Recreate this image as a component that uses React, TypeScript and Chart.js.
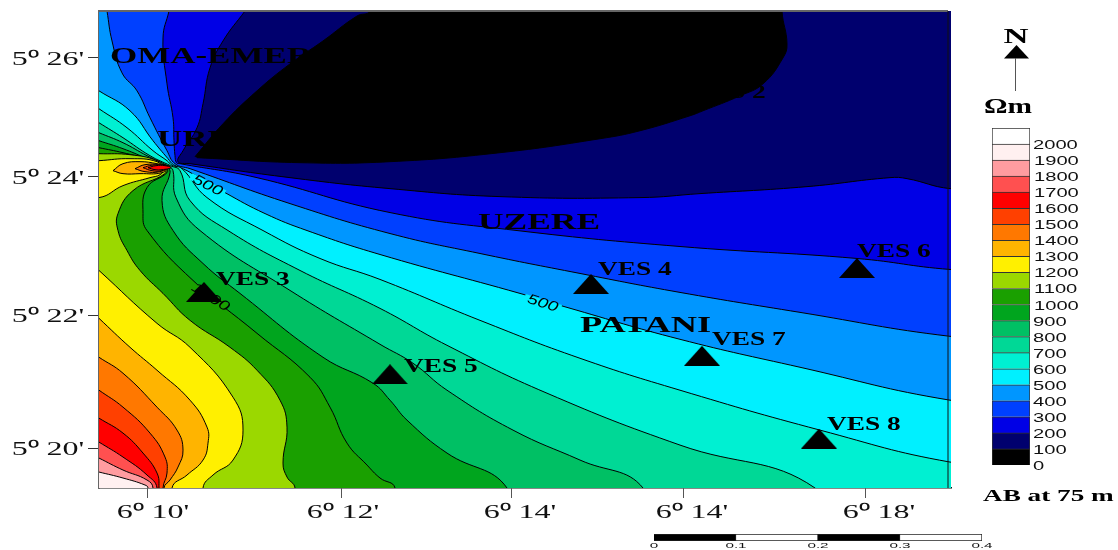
import React, { useEffect, useRef } from "react";
import { Chart, registerables } from "chart.js";

Chart.register(...registerables);

// Map grid units: x east from the west edge of the map, y north from the south edge.
type P = [number, number];

const lonTickValues = [48, 242, 412, 584, 766];
const lonTickLabels = ["6⁰ 10'", "6⁰ 12'", "6⁰ 14'", "6⁰ 14'", "6⁰ 18'"];
const lonTickShift = [6, 2, 9, 9, 14];
const latTickValues = [431, 312, 173, 40];
const latTickLabels = ["5⁰ 26'", "5⁰ 24'", "5⁰ 22'", "5⁰ 20'"];

const bandColors = [
  "#000000", "#00006e", "#0000e6", "#0040ff", "#0096ff", "#00f0ff", "#00f0d2",
  "#00d896", "#00c064", "#00a51e", "#1aa000", "#9bd800", "#fff000", "#ffb400",
  "#ff7800", "#ff4000", "#ff0000", "#ff5050", "#ff9ca0", "#fff0f0", "#ffffff",
];
const legendValues = [0, 100, 200, 300, 400, 500, 600, 700, 800, 900, 1000, 1100, 1200, 1300, 1400, 1500, 1600, 1700, 1800, 1900, 2000];

const contour100: P[] = [[96,332],[124,365],[158,398],[191,425],[224,448],[258,473],[271,478],[290,520],[683,520],[683,478],[688,445],[684,431],[664,405],[641,393],[604,378],[591,373],[541,358],[501,350],[401,336],[291,327],[201,326],[98,331]];
const contour200: P[] = [[146,478],[124,448],[111,421],[104,385],[98,361],[84,338],[79,327],[91,325],[191,311],[291,300],[401,292],[541,291],[601,295],[708,302],[791,311],[808,310],[851,300]];
const contour300: P[] = [[70,478],[64,451],[68,405],[74,371],[75,348],[76,333],[77.5,326],[81,325],[158,311],[291,276],[418,258],[581,242],[758,230],[851,219]];
const contour400: P[] = [[8,478],[13,448],[23,416],[38,398],[51,371],[68,338],[76,325],[91,320],[191,285],[291,255],[381,235],[481,215],[581,196],[701,176],[851,152]];
const contour500: P[] = [[0,398],[31,378],[54,348],[69,330],[74.5,324],[88,318],[126,296],[166,275],[208,258],[281,234],[421,195],[468,181],[581,149],[701,121],[851,88]];
const contour600: P[] = [[0,380],[28,361],[54,338],[68,328],[73,323.5],[83,320],[108,291],[164,258],[221,230],[281,209],[381,168],[481,130],[581,98],[721,58],[851,26]];
const contour700: P[] = [[0,366],[24,351],[51,333],[71.5,323],[81,318],[91,288],[129,258],[201,218],[281,180],[348,143],[448,95],[581,43],[716,0]];
const contour800: P[] = [[0,356],[24,346],[48,333],[70,322],[74,318],[77,291],[101,258],[191,198],[281,144],[314,125],[348,98],[414,58],[481,28],[544,0]];
const contour900: P[] = [[0,348],[24,340],[46,331],[68.5,321],[71,316],[63,288],[74,258],[104,225],[141,195],[224,131],[274,105],[291,88],[308,68],[348,35],[408,0]];
const contour1000: P[] = [[0,341],[24,336],[46,330],[67,320.5],[68,316],[48,301],[44,275],[48,258],[94,208],[158,155],[211,111],[231,81],[248,45],[268,23],[281,10],[296,0]];
const contour1100: P[] = [[0,335],[31,334],[58,328],[65.5,320],[66,315],[34,298],[19,275],[19,258],[28,238],[41,218],[64,195],[91,168],[131,141],[158,118],[181,88],[188,61],[184,25],[188,11],[196,0]];
const contour1200north: P[] = [[0,328],[31,330],[58,327],[64,319],[61,314],[51,311],[24,303],[0,291]];
const contour1200south: P[] = [[0,218],[58,165],[91,141],[134,91],[144,58],[134,28],[114,13],[104,0]];
const contour1300south: P[] = [[0,170],[31,141],[58,118],[91,88],[108,61],[109,45],[104,28],[88,13],[73,0]];
const contour1400south: P[] = [[0,131],[24,115],[58,81],[78,58],[84,38],[79,21],[71,8],[65,0]];
const contour1500south: P[] = [[0,98],[24,81],[51,55],[66,31],[68,15],[64,0]];
const contour1600south: P[] = [[0,70],[24,55],[44,35],[58,15],[60,0]];
const contour1700south: P[] = [[0,46],[24,31],[48,13],[58,0]];
const contour1800south: P[] = [[0,30],[24,18],[48,8],[54,0]];
const contour1900south: P[] = [[0,16],[24,10],[46,3],[49,0]];
const island1300: P[] = [[14,318],[24,325],[41,327],[58,325],[69,322],[63,316],[41,315],[24,315],[14,318]];
const island1400: P[] = [[36,320],[46,324],[61,324],[70,322],[61,317],[46,317],[36,320]];
const island1500: P[] = [[44,321],[53,323.5],[64,323.5],[71,322],[63,318],[53,318],[44,321]];
const island1600: P[] = [[49,321],[57,323],[66,323],[72,321],[63,319],[56,319],[49,321]];

const stationNames = ["VES 2", "VES 3", "VES 4", "VES 5", "VES 6", "VES 7", "VES 8"];
const stationPoints: P[] = [[577,384],[105,196.5],[492,204.5],[291,114],[758,220.5],[603,132.5],[720,49.5]];
const stationLabelPoints: P[] = [[593,391],[117,203],[499,213],[305,116],[758,231],[613,143],[728,58]];

const placeNames = ["OMA-EMERE", "URH", "UZERE", "PATANI"];
const placePoints: P[] = [[11,426],[58,343],[379,260],[481,156]];
const placeStretch = [1.52, 1.52, 1.54, 1.58];

const contourLabels = ["500", "1000", "500"];
const contourLabelPoints: P[] = [[109,304],[112,192],[444,186]];
const contourLabelAngles = [27, 32, 17];
const contourLabelMasks = ["#00f0ff", "#1aa000", "#00f0ff"];

const scaleBarBands = [0.1, 0.1, 0.1, 0.1];
const scaleBarColors = ["#000000", "#ffffff", "#000000", "#ffffff"];
const scaleBarTicks = [0, 0.1, 0.2, 0.3, 0.4];

const SERIF = '"Liberation Serif"';
const SANS = '"Liberation Sans"';

function text(ctx: CanvasRenderingContext2D, s: string, x: number, y: number, font: string, sx: number, align: CanvasTextAlign = "left", color = "#000") {
  ctx.save();
  ctx.translate(x, y);
  ctx.scale(sx, 1);
  ctx.font = font;
  ctx.textAlign = align;
  ctx.textBaseline = "alphabetic";
  ctx.fillStyle = color;
  ctx.fillText(s, 0, 0);
  ctx.restore();
}

function closeSouthWest(pts: P[]): P[] {
  const out: P[] = [...pts];
  const s = pts[0];
  const e = pts[pts.length - 1];
  if (e[1] <= 0) out.push([e[0], -50]);
  else out.push([900, e[1]], [900, -50]);
  out.push([-50, -50]);
  if (s[1] >= 478) out.push([-50, 528], [s[0], 528]);
  else out.push([-50, s[1]]);
  return out;
}
function closeWest(pts: P[]): P[] {
  return [...pts, [-50, pts[pts.length - 1][1]], [-50, pts[0][1]]];
}
const toXY = (pts: P[]) => pts.map(([x, y]) => ({ x, y }));

export default function App() {
  const mainRef = useRef<HTMLCanvasElement>(null);
  const legendRef = useRef<HTMLCanvasElement>(null);
  const barRef = useRef<HTMLCanvasElement>(null);

  useEffect(() => {
    document.body.style.margin = "0";

    const tri = document.createElement("canvas");
    tri.width = 36;
    tri.height = 20;
    const t = tri.getContext("2d")!;
    t.beginPath();
    t.moveTo(18, 0);
    t.lineTo(36, 20);
    t.lineTo(0, 20);
    t.closePath();
    t.fillStyle = "#000";
    t.fill();

    const polygons: { pts: P[]; color: string }[] = [
      { pts: [[-50,-50],[900,-50],[900,528],[-50,528]], color: bandColors[1] },
      { pts: closeSouthWest(contour200), color: bandColors[2] },
      { pts: closeSouthWest(contour300), color: bandColors[3] },
      { pts: closeSouthWest(contour400), color: bandColors[4] },
      { pts: closeSouthWest(contour500), color: bandColors[5] },
      { pts: closeSouthWest(contour600), color: bandColors[6] },
      { pts: closeSouthWest(contour700), color: bandColors[7] },
      { pts: closeSouthWest(contour800), color: bandColors[8] },
      { pts: closeSouthWest(contour900), color: bandColors[9] },
      { pts: closeSouthWest(contour1000), color: bandColors[10] },
      { pts: closeSouthWest(contour1100), color: bandColors[11] },
      { pts: closeWest(contour1200north), color: bandColors[12] },
      { pts: closeSouthWest(contour1200south), color: bandColors[12] },
      { pts: island1300, color: bandColors[13] },
      { pts: island1400, color: bandColors[14] },
      { pts: island1500, color: bandColors[15] },
      { pts: island1600, color: bandColors[16] },
      { pts: closeSouthWest(contour1300south), color: bandColors[13] },
      { pts: closeSouthWest(contour1400south), color: bandColors[14] },
      { pts: closeSouthWest(contour1500south), color: bandColors[15] },
      { pts: closeSouthWest(contour1600south), color: bandColors[16] },
      { pts: closeSouthWest(contour1700south), color: bandColors[17] },
      { pts: closeSouthWest(contour1800south), color: bandColors[18] },
      { pts: closeSouthWest(contour1900south), color: bandColors[19] },
      { pts: contour100, color: bandColors[0] },
    ];

    const total = polygons.length + 1;
    const datasets: any[] = polygons.map((p, i) => ({
      label: "band " + i,
      data: toXY(p.pts),
      showLine: true,
      fill: "shape",
      backgroundColor: p.color,
      borderColor: "#000",
      borderWidth: 1,
      pointRadius: 0,
      tension: 0.45,
      capBezierPoints: false,
      order: total - i,
    }));
    const stationIndex = datasets.length;
    datasets.push({
      label: "VES stations",
      data: toXY(stationPoints),
      showLine: false,
      pointStyle: tri,
      pointRadius: 10,
      order: 0,
    });

    const mapPlugin = {
      id: "mapText",
      beforeDatasetDraw(chart: any, args: any) {
        if (args.index !== stationIndex) return;
        const { ctx, scales } = chart;
        contourLabels.forEach((s, i) => {
          const x = scales.x.getPixelForValue(contourLabelPoints[i][0]);
          const y = scales.y.getPixelForValue(contourLabelPoints[i][1]);
          ctx.save();
          ctx.translate(x, y);
          ctx.rotate((contourLabelAngles[i] * Math.PI) / 180);
          ctx.fillStyle = contourLabelMasks[i];
          ctx.fillRect(-19, -3, 38, 7);
          text(ctx, s, 0, 5, "italic 14px " + SANS, 1.35, "center");
          ctx.restore();
        });
      },
      afterDatasetsDraw(chart: any) {
        const { ctx, scales, chartArea } = chart;
        const px = (p: P) => [scales.x.getPixelForValue(p[0]), scales.y.getPixelForValue(p[1])];
        placeNames.forEach((s, i) => {
          const [x, y] = px(placePoints[i]);
          text(ctx, s, x, y, "bold 23px " + SERIF, placeStretch[i]);
        });
        stationNames.forEach((s, i) => {
          const [x, y] = px(stationLabelPoints[i]);
          text(ctx, s, x, y, "bold 18px " + SERIF, 1.52);
        });
        // frame: north and east sides
        ctx.save();
        ctx.strokeStyle = "#666";
        ctx.lineWidth = 2;
        ctx.beginPath();
        ctx.moveTo(chartArea.left, chartArea.top);
        ctx.lineTo(scales.x.getPixelForValue(849), chartArea.top);
        ctx.stroke();
        ctx.strokeStyle = "#111";
        ctx.lineWidth = 1;
        ctx.beginPath();
        ctx.moveTo(scales.x.getPixelForValue(849), chartArea.top);
        ctx.lineTo(scales.x.getPixelForValue(849), chartArea.bottom);
        ctx.stroke();
        ctx.restore();
      },
      afterDraw(chart: any) {
        const { ctx, scales } = chart;
        lonTickValues.forEach((v, i) => {
          text(ctx, lonTickLabels[i], scales.x.getPixelForValue(v) + lonTickShift[i], 518, "18px " + SERIF, 1.78, "center", "#111");
        });
        latTickValues.forEach((v, i) => {
          text(ctx, latTickLabels[i], 48, scales.y.getPixelForValue(v) + 7, "18px " + SERIF, 1.78, "center", "#111");
        });
        // north arrow and captions
        text(ctx, "N", 1016, 43, "bold 21px " + SERIF, 1.65, "center");
        ctx.save();
        ctx.fillStyle = "#000";
        ctx.beginPath();
        ctx.moveTo(1016.5, 45);
        ctx.lineTo(1029, 58.5);
        ctx.lineTo(1004, 58.5);
        ctx.closePath();
        ctx.fill();
        ctx.strokeStyle = "#555";
        ctx.lineWidth = 1;
        ctx.beginPath();
        ctx.moveTo(1015.5, 58);
        ctx.lineTo(1015.5, 91);
        ctx.stroke();
        ctx.restore();
        text(ctx, "Ωm", 1008, 113, "bold 20px " + SERIF, 1.47, "center");
        text(ctx, "AB at 75 m", 983, 501, "bold 16px " + SERIF, 1.7);
      },
    };

    const main = new Chart(mainRef.current!, {
      type: "scatter",
      data: { datasets },
      plugins: [mapPlugin],
      options: {
        animation: false,
        responsive: false,
        maintainAspectRatio: false,
        layout: { padding: { top: 10, right: 167, left: 0, bottom: 0 } },
        plugins: { legend: { display: false }, tooltip: { enabled: false }, title: { display: false } },
        scales: {
          x: {
            type: "linear",
            min: 0,
            max: 852,
            border: { color: "#111", width: 1.5 },
            grid: { drawOnChartArea: false, drawTicks: true, tickLength: 10, color: "#555" },
            ticks: { display: false, autoSkip: false },
            afterBuildTicks(s: any) { s.ticks = lonTickValues.map((value) => ({ value })); },
            afterFit(s: any) { s.height = 62; },
          },
          y: {
            type: "linear",
            min: 0,
            max: 478,
            border: { color: "#666", width: 2 },
            grid: { drawOnChartArea: false, drawTicks: true, tickLength: 11, color: "#333" },
            ticks: { display: false, autoSkip: false },
            afterBuildTicks(s: any) { s.ticks = latTickValues.map((value) => ({ value })); },
            afterFit(s: any) { s.width = 99; },
          },
        },
      } as any,
    });

    const legendPlugin = {
      id: "legendText",
      afterDraw(chart: any) {
        const { ctx, scales } = chart;
        legendValues.forEach((v) => {
          const s = String(v);
          const left = s.length === 3 || s.length === 1 ? 53 : s.startsWith("2") ? 53 : 54;
          text(ctx, s, left, scales.y.getPixelForValue(v) + 5, "13px " + SANS, 1.55, "left", "#111");
        });
      },
    };

    const legend = new Chart(legendRef.current!, {
      type: "bar",
      data: {
        labels: ["Ωm"],
        datasets: bandColors.map((c, i) => ({
          label: String(i * 100),
          data: [100],
          backgroundColor: c,
          borderColor: "#333",
          borderWidth: 1,
          barPercentage: 1,
          categoryPercentage: 1,
        })),
      },
      plugins: [legendPlugin],
      options: {
        animation: false,
        responsive: false,
        maintainAspectRatio: false,
        layout: { padding: { left: 12, right: 88, top: 10, bottom: 13 } },
        plugins: { legend: { display: false }, tooltip: { enabled: false } },
        scales: {
          x: { stacked: true, display: false },
          y: { stacked: true, display: false, min: 0, max: 2100 },
        },
      } as any,
    });

    const barPlugin = {
      id: "barText",
      afterDraw(chart: any) {
        const { ctx, scales } = chart;
        scaleBarTicks.forEach((v) => {
          text(ctx, String(v), scales.x.getPixelForValue(v), 20, "8px " + SANS, 1.9, "center", "#111");
        });
      },
    };

    const bar = new Chart(barRef.current!, {
      type: "bar",
      data: {
        labels: ["km"],
        datasets: scaleBarBands.map((v, i) => ({
          label: "segment " + i,
          data: [v],
          backgroundColor: scaleBarColors[i],
          borderColor: "#222",
          borderWidth: 1,
          barPercentage: 1,
          categoryPercentage: 1,
        })),
      },
      plugins: [barPlugin],
      options: {
        indexAxis: "y",
        animation: false,
        responsive: false,
        maintainAspectRatio: false,
        layout: { padding: { left: 14, right: 18, top: 6, bottom: 9 } },
        plugins: { legend: { display: false }, tooltip: { enabled: false } },
        scales: {
          x: { stacked: true, display: false, min: 0, max: 0.4 },
          y: { stacked: true, display: false },
        },
      } as any,
    });

    return () => {
      main.destroy();
      legend.destroy();
      bar.destroy();
    };
  }, []);

  return (
    <div style={{ position: "relative", width: 1118, height: 550, overflow: "hidden", background: "#fff" }}>
      <canvas ref={mainRef} width={1118} height={550} style={{ position: "absolute", left: 0, top: 0 }} />
      <canvas ref={legendRef} width={138} height={360} style={{ position: "absolute", left: 980, top: 118 }} />
      <canvas ref={barRef} width={360} height={22} style={{ position: "absolute", left: 640, top: 528 }} />
    </div>
  );
}
